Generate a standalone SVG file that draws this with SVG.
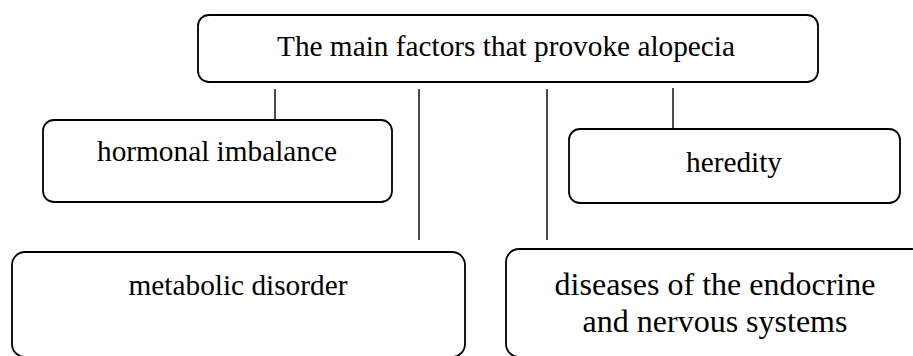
<svg xmlns="http://www.w3.org/2000/svg" width="913" height="356" viewBox="0 0 913 356">
<style>
.box{fill:#fff;stroke:#000;stroke-width:1.8}
text{font-family:'Liberation Serif','DejaVu Serif',serif;font-size:29.3px;fill:#000;text-anchor:middle}
.t2{font-size:32px}
.c line{stroke:#000;stroke-width:1.4}
</style>
<rect width="913" height="356" fill="#fff"/>
<g class="c" id="connectors">
<line x1="275" y1="89" x2="275" y2="120"/>
<line x1="419" y1="89" x2="419" y2="240"/>
<line x1="547" y1="89" x2="547" y2="240"/>
<line x1="673" y1="88" x2="673" y2="129"/>
</g>
<g id="main">
<rect class="box" x="198" y="15" width="620" height="67" rx="11"/>
<text x="506" y="56" font-family="Liberation Serif, serif">The main factors that provoke alopecia</text>
</g>
<g id="hormonal">
<rect class="box" x="43" y="120" width="349" height="82" rx="11"/>
<text x="217" y="161" font-family="Liberation Serif, serif">hormonal imbalance</text>
</g>
<g id="heredity">
<rect class="box" x="569" y="129" width="331" height="74" rx="11"/>
<text x="734" y="172" font-family="Liberation Serif, serif">heredity</text>
</g>
<g id="metabolic">
<rect class="box" x="12" y="252" width="453" height="105" rx="13"/>
<text x="238" y="295" font-family="Liberation Serif, serif">metabolic disorder</text>
</g>
<g id="diseases">
<rect class="box" x="506" y="249" width="419" height="108" rx="13"/>
<text class="t2" x="715" y="295" font-family="Liberation Serif, serif">diseases of the endocrine</text>
<text class="t2" x="715" y="332" font-family="Liberation Serif, serif">and nervous systems</text>
</g>
</svg>
